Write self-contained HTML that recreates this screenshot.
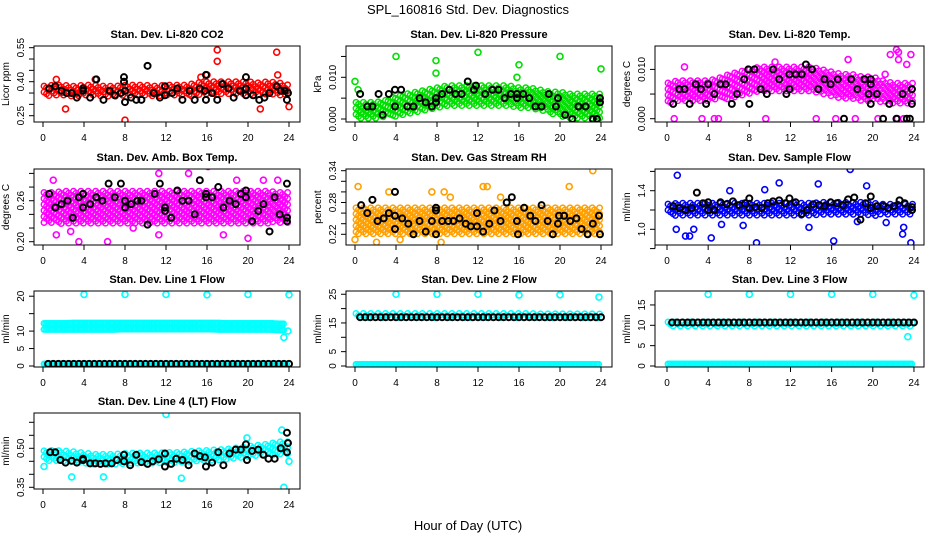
<!DOCTYPE html>
<html><head><meta charset="utf-8"><style>
html,body{margin:0;padding:0;background:#fff}
svg{display:block;font-family:"Liberation Sans",sans-serif}
</style></head><body>
<svg id="chart" width="936" height="540" viewBox="0 0 936 540" xmlns="http://www.w3.org/2000/svg">
<text x="468" y="14" text-anchor="middle" font-size="13">SPL_160816  Std. Dev. Diagnostics</text>
<text x="468" y="530" text-anchor="middle" font-size="13">Hour of Day (UTC)</text>
</svg>
<script>
// ---- data (hourly band centre / half-spread at hours 0..24, outliers, black overlay points) ----
const xTicks=[0,4,8,12,16,20,24];
const co2Center=[0.355,0.36,0.36,0.355,0.36,0.36,0.355,0.355,0.36,0.36,0.36,0.355,0.36,0.36,0.36,0.365,0.37,0.37,0.37,0.37,0.37,0.365,0.37,0.365,0.36];
const co2Spread=[0.025,0.025,0.025,0.025,0.025,0.025,0.025,0.025,0.025,0.025,0.025,0.025,0.025,0.025,0.025,0.03,0.03,0.03,0.03,0.03,0.03,0.03,0.03,0.03,0.025];
const co2OutX=[8,17,22.8,17,16,22.9,2.2,21.2,24,1.3,5.1,15.4];
const co2OutY=[0.23,0.54,0.53,0.49,0.43,0.43,0.28,0.28,0.29,0.41,0.41,0.42];
const co2BlackX=[0.6,1.2,1.8,2.3,2.8,3.3,3.9,3.9,4.6,5.2,5.9,6.5,7,7.6,7.9,7.9,8,8,8.6,9.1,9.6,10.2,10.8,11.4,11.9,11.9,12.6,13.1,13.6,14.3,14.8,15.3,15.8,15.9,15.9,16.5,17,17.5,18.1,18.6,19.2,19.8,19.8,19.8,20.5,21.1,21.6,22.1,22.8,23.2,23.6,23.9,23.8];
const co2BlackY=[0.37,0.38,0.36,0.35,0.35,0.33,0.36,0.37,0.33,0.41,0.32,0.36,0.34,0.35,0.40,0.42,0.31,0.36,0.33,0.32,0.32,0.47,0.35,0.33,0.38,0.34,0.35,0.37,0.32,0.36,0.32,0.37,0.36,0.32,0.43,0.35,0.32,0.39,0.37,0.33,0.36,0.37,0.34,0.42,0.34,0.32,0.33,0.35,0.38,0.36,0.36,0.35,0.32];

const presCenter=[0.002,0.002,0.002,0.0025,0.003,0.0035,0.004,0.0045,0.005,0.0055,0.0055,0.0055,0.0055,0.0055,0.0055,0.0055,0.005,0.005,0.0045,0.004,0.0035,0.003,0.003,0.003,0.003];
const presSpread=[0.002,0.002,0.002,0.002,0.0025,0.0025,0.0025,0.0025,0.0025,0.0025,0.0025,0.0025,0.0025,0.0025,0.0025,0.0025,0.0025,0.0025,0.0025,0.0025,0.003,0.003,0.003,0.003,0.003];
const presOutX=[0,4,7.9,7.9,12,16,20,24,15.8,0.3];
const presOutY=[0.009,0.015,0.014,0.011,0.016,0.013,0.015,0.012,0.010,0.007];
const presBlackX=[0.5,1.2,1.7,2.3,2.7,3.3,3.9,3.9,4.5,5.1,5.7,6.3,6.9,7.5,7.9,7.9,8.5,9.2,9.8,10.4,11,11.6,11.8,12.7,13.4,14,14.6,15.2,15.8,15.8,16.4,17,17.6,18.2,18.9,19.6,19.8,20.5,21.2,21.8,22.5,23.2,23.6,23.9,23.9];
const presBlackY=[0.006,0.003,0.003,0.006,0.001,0.006,0.007,0.003,0.007,0.003,0.003,0.005,0.004,0.003,0.005,0.004,0.006,0.007,0.006,0.006,0.009,0.007,0.008,0.006,0.007,0.007,0.005,0.006,0.006,0.005,0.006,0.005,0.003,0.003,0.006,0.003,0.005,0.001,0.000,0.003,0.003,0.000,0.000,0.004,0.005];

const tempCenter=[0.005,0.0055,0.0055,0.0055,0.0055,0.006,0.0065,0.007,0.0075,0.008,0.008,0.008,0.008,0.008,0.008,0.0075,0.007,0.0065,0.0065,0.006,0.006,0.0055,0.005,0.005,0.005];
const tempSpread=[0.0022,0.0022,0.0022,0.0022,0.0022,0.0022,0.0025,0.0025,0.0025,0.0025,0.0025,0.0025,0.0025,0.0025,0.0025,0.0025,0.0025,0.0025,0.0025,0.0025,0.0025,0.0022,0.0022,0.0022,0.0022];
const tempOutX=[0.7,3.4,4.6,5,9.6,14.5,16.4,18.3,20.5,22.4,23,22.3,22.5,21.7,23.7,22.5,23.3,17.6,21.2,1.7,10.5];
const tempOutY=[0,0,0,0,0,0,0,0,0,0,0,0.014,0.0135,0.013,0.013,0.012,0.011,0.012,0.009,0.0105,0.0115];
const tempBlackX=[0.6,1.2,1.7,2.2,2.8,3.3,3.8,4,4.6,5.2,5.7,6.3,6.8,7.5,7.9,8,8.5,9.1,9.7,10.3,10.9,11.6,11.9,11.9,12.5,13.1,13.5,14.1,14.7,15.3,15.9,16.6,17.2,17.9,18.5,19.2,19.8,19.8,19.6,19.8,20.4,21,21.6,22.3,22.9,23.3,23.6,23.8,23.8];
const tempBlackY=[0.003,0.006,0.006,0.003,0.007,0.006,0.003,0.007,0.005,0.007,0.007,0.003,0.005,0.008,0.010,0.003,0.010,0.006,0.005,0.010,0.008,0.005,0.009,0.006,0.009,0.009,0.011,0.010,0.006,0.008,0.007,0.008,0.0,0.008,0.006,0.008,0.008,0.007,0.005,0.003,0.005,0.0,0.003,0.0,0.005,0.0,0.0,0.006,0.003];

const ambCenter=[0.25,0.25,0.25,0.25,0.25,0.25,0.25,0.25,0.25,0.25,0.25,0.25,0.25,0.25,0.25,0.25,0.25,0.25,0.25,0.25,0.25,0.25,0.25,0.25,0.25];
const ambSpread=[0.022,0.022,0.024,0.024,0.024,0.024,0.024,0.024,0.024,0.024,0.024,0.024,0.024,0.024,0.024,0.024,0.024,0.024,0.024,0.024,0.024,0.024,0.024,0.022,0.022];
const ambOutX=[1,1.3,3.5,6.3,11.3,16.1,14.2,11.3,2.7,18.9,21.5,20,8.8,17.6,22.9];
const ambOutY=[0.29,0.21,0.20,0.20,0.21,0.31,0.30,0.30,0.215,0.29,0.29,0.205,0.22,0.21,0.29];
const ambBlackX=[0.6,1.2,1.8,2.4,2.9,3.5,3.9,3.9,4.6,5.2,5.8,6.4,7,7.6,8,8,8.6,9.2,9.6,10.2,10.9,11.4,11.9,11.9,12.5,13.1,13.6,14.2,14.8,15.3,15.9,15.9,16.5,17.1,17.6,18.2,18.8,19.3,19.8,19.8,20.4,21,21.5,22.1,22.6,23.1,23.8,23.8,23.8];
const ambBlackY=[0.27,0.25,0.255,0.26,0.235,0.265,0.25,0.27,0.255,0.265,0.26,0.285,0.265,0.285,0.26,0.25,0.255,0.26,0.26,0.225,0.27,0.285,0.245,0.25,0.235,0.275,0.26,0.26,0.24,0.29,0.27,0.265,0.265,0.28,0.25,0.26,0.255,0.27,0.275,0.265,0.23,0.245,0.255,0.215,0.265,0.24,0.285,0.235,0.23];

const rhCenter=[0.245,0.245,0.245,0.245,0.245,0.245,0.245,0.245,0.245,0.245,0.245,0.245,0.245,0.245,0.245,0.245,0.245,0.245,0.245,0.245,0.245,0.245,0.245,0.245,0.245];
const rhSpread=[0.025,0.025,0.025,0.025,0.025,0.025,0.025,0.025,0.025,0.025,0.025,0.025,0.025,0.025,0.025,0.025,0.025,0.025,0.025,0.025,0.025,0.025,0.025,0.025,0.025];
const rhOutX=[0.3,0,3.3,4.4,8.4,2.1,7.5,12.5,12.9,20.9,23.2,14.2,9.3,8.7];
const rhOutY=[0.31,0.21,0.30,0.21,0.205,0.205,0.30,0.31,0.31,0.31,0.34,0.29,0.29,0.30];
const rhBlackX=[0.6,1.2,1.7,2.2,2.8,3.3,3.9,3.9,3.9,4.6,5.2,5.7,6.3,6.9,7.5,7.9,7.9,7.9,8.5,9.1,9.6,10.2,10.8,11.3,11.9,11.9,12.5,13.1,13.6,14.2,14.8,15.3,15.8,15.9,16.5,17.1,17.6,18.2,18.8,19.3,19.8,19.9,20.4,21,21.6,22.1,22.7,23.2,23.8,23.9];
const rhBlackY=[0.275,0.26,0.285,0.245,0.25,0.26,0.3,0.255,0.23,0.25,0.24,0.22,0.245,0.225,0.245,0.22,0.27,0.265,0.245,0.245,0.245,0.25,0.24,0.235,0.26,0.235,0.225,0.24,0.265,0.245,0.28,0.29,0.245,0.22,0.27,0.255,0.245,0.275,0.245,0.22,0.24,0.255,0.255,0.245,0.25,0.23,0.22,0.24,0.255,0.22];

const flowCenter=[1.2,1.2,1.2,1.2,1.2,1.2,1.2,1.2,1.2,1.2,1.2,1.2,1.2,1.2,1.2,1.21,1.21,1.21,1.21,1.21,1.2,1.2,1.2,1.2,1.2];
const flowSpread=[0.06,0.07,0.07,0.07,0.07,0.07,0.07,0.07,0.07,0.07,0.07,0.07,0.07,0.07,0.07,0.07,0.07,0.07,0.07,0.07,0.07,0.06,0.06,0.06,0.06];
const flowOutX=[1.8,2.2,4.3,8.7,16.2,23.7,1,7.4,13.8,0.9,6.1,10.9,14.7,17.8,19.4,22.9,9.5,18.5,2.6,23,5.3,21.3];
const flowOutY=[0.93,0.93,0.91,0.86,0.88,0.86,1.56,1.04,1.02,1.0,1.4,1.48,1.47,1.62,1.45,0.95,1.41,1.08,1.0,1.02,1.05,1.07];
const flowBlackX=[0.6,1.2,1.8,2.4,2.9,3.5,4,4,4.6,5.2,5.8,6.4,7,7.6,8,8,8.6,9.2,9.8,10.3,10.9,11.5,11.9,12.5,13.1,13.6,14.2,14.8,15.3,15.9,16.5,17.1,17.6,18.2,18.8,19.3,19.8,19.8,20.4,21,21.5,22.1,22.6,23.1,23.8,23.8];
const flowBlackY=[1.24,1.22,1.2,1.22,1.38,1.27,1.28,1.2,1.2,1.28,1.26,1.29,1.25,1.27,1.32,1.22,1.23,1.22,1.27,1.29,1.3,1.27,1.32,1.28,1.16,1.2,1.26,1.25,1.24,1.28,1.27,1.25,1.31,1.33,1.1,1.27,1.34,1.22,1.24,1.24,1.22,1.24,1.3,1.27,1.23,1.2];

const l1BandA=[12.2,12.2,12.2,12.3,12.3,12.3,12.3,12.3,12.3,12.3,12.3,12.3,12.3,12.3,12.3,12.3,12.3,12.3,12.2,12.2,12.2,12.2,12.2,12.1,12.1];
const l1BandB=[10.5,10.5,10.5,10.5,10.5,10.5,10.5,10.5,10.6,10.6,10.6,10.6,10.6,10.6,10.6,10.6,10.6,10.5,10.5,10.5,10.5,10.5,10.5,10.3,10.2];
const l1Zero=[0.6,0.6,0.6,0.6,0.6,0.6,0.6,0.6,0.6,0.6,0.6,0.6,0.6,0.6,0.6,0.6,0.6,0.6,0.6,0.6,0.6,0.6,0.6,0.6,0.6];
const l1OutX=[4,8,12,16,20,24,23.5,23.9];
const l1OutY=[20.5,20.5,20.5,20.4,20.5,20.4,8.2,10];
const l2Band=[17.4,17.4,17.4,17.4,17.4,17.4,17.4,17.4,17.4,17.4,17.4,17.4,17.4,17.4,17.4,17.4,17.4,17.4,17.3,17.3,17.3,17.3,17.3,17.3,17.2];
const l2Zero=[0.6,0.6,0.6,0.6,0.6,0.6,0.6,0.6,0.6,0.6,0.6,0.6,0.6,0.6,0.6,0.6,0.6,0.6,0.6,0.6,0.6,0.6,0.6,0.6,0.6];
const l2OutX=[4,8,12,16,20,23.8];
const l2OutY=[25,25,25,24.7,24.8,24];
const l3Band=[10.2,10.2,10.2,10.2,10.2,10.2,10.2,10.2,10.2,10.2,10.2,10.2,10.2,10.2,10.2,10.2,10.2,10.2,10.2,10.2,10.2,10.2,10.2,10.2,10.1];
const l3Zero=[0.5,0.5,0.5,0.5,0.5,0.5,0.5,0.5,0.5,0.5,0.5,0.5,0.5,0.5,0.5,0.5,0.5,0.5,0.5,0.5,0.5,0.5,0.5,0.5,0.5];
const l3OutX=[4,8,12,16,20,24,23.4];
const l3OutY=[17.6,17.6,17.6,17.6,17.6,17.4,7.2];
const l4Center=[0.468,0.47,0.468,0.465,0.46,0.455,0.455,0.455,0.458,0.46,0.46,0.46,0.462,0.462,0.465,0.468,0.47,0.472,0.475,0.48,0.485,0.49,0.495,0.5,0.5];
const l4Spread=[0.022,0.022,0.022,0.022,0.022,0.022,0.022,0.022,0.022,0.022,0.022,0.022,0.022,0.022,0.022,0.022,0.022,0.022,0.022,0.022,0.022,0.022,0.022,0.025,0.025];
const l4OutX=[0.1,2.8,12,13.5,19.9,23.5,23.3,24,5.9];
const l4OutY=[0.43,0.39,0.63,0.385,0.54,0.35,0.57,0.45,0.39];
const l4BlackX=[0.7,1.2,1.7,2.2,2.8,3.3,3.9,3.9,4.6,5.1,5.6,6.1,6.7,7.2,7.9,7.9,8.5,9.1,9.6,10.2,10.7,11.3,11.9,11.9,12.5,13,13.6,14.2,14.8,15.3,15.8,15.9,16.5,17.1,17.6,18.2,18.8,19.3,19.8,19.9,20.4,21,21.5,22,22.6,23.2,23.8,23.8,23.9];
const l4BlackY=[0.485,0.485,0.455,0.445,0.452,0.445,0.455,0.46,0.442,0.442,0.44,0.442,0.442,0.455,0.45,0.475,0.435,0.475,0.447,0.44,0.45,0.458,0.48,0.43,0.44,0.46,0.455,0.435,0.48,0.47,0.465,0.43,0.445,0.485,0.435,0.48,0.495,0.495,0.515,0.455,0.49,0.495,0.475,0.46,0.46,0.5,0.56,0.485,0.52];
const l1BlackVal=0.6, l2BlackVal=17.0, l3BlackVal=10.7;

// ---- rendering ----
const NS="http://www.w3.org/2000/svg";
const svg=document.getElementById('chart');
function mk(tag,attrs,parent){const e=document.createElementNS(NS,tag);for(const k in attrs)e.setAttribute(k,attrs[k]);(parent||svg).appendChild(e);return e;}
const colX0=[43,355,667], colK=[10.25,10.25,10.29], colBox=[[34,300],[346,612],[655,924]];
const rowTop=[46,169,291,413], BH=76;
function interp(arr,h){const i=Math.min(23,Math.max(0,Math.floor(h)));const f=h-i;return arr[i]*(1-f)+arr[i+1]*f;}

function drawPanel(p){
  const g=mk('g',{});
  
  
  const [bl,br]=colBox[p.col]; const bt=rowTop[p.row], bb=bt+BH;
  const X=h=>colX0[p.col]+h*colK[p.col];
  const Y=v=>p.p0-(v-p.v0)*p.k;
  const t=mk('text',{x:(bl+br)/2,y:bt-8,'text-anchor':'middle','font-size':11,'font-weight':'bold'},g);
  t.textContent=p.title;
  
  
  const clip='c'+p.name;
  const cp=mk('clipPath',{id:clip},g); mk('rect',{x:bl,y:bt,width:br-bl,height:BH},cp);
  const pts=mk('g',{'clip-path':'url(#'+clip+')',fill:'none'},g);
  
  
  (p.bands||[]).forEach(b=>{
    let col=0;
    const step=b.s?0.24:0.16;
    for(let h=0.1;h<=b.end;h+=step){
      const c=interp(b.c,h), s=b.s?interp(b.s,h):0;
      const top=Y(c+s), bot=Y(c-s);
      const off=b.s?(col%3)*2:0; col++;
      for(let y=top+off;y<=bot+0.01;y+=6){
        const e=mk('circle',{cx:X(h).toFixed(1),cy:y.toFixed(1),r:2.7,stroke:p.color,'stroke-width':1.5},pts);
        
        
      }
    }
  });
  (p.outX||[]).forEach((h,i)=>{
    const e=mk('circle',{cx:X(h),cy:Y(p.outY[i]),r:3,stroke:p.color,'stroke-width':1.6},pts);
    
    
  });
  (p.bx||[]).forEach((h,i)=>{
    const e=mk('circle',{cx:X(h),cy:Y(p.by[i]),r:3,stroke:'#000','stroke-width':2},pts);
    
    
  });
  const box=mk('rect',{x:bl,y:bt,width:br-bl,height:BH,fill:'none',stroke:'#000','stroke-width':1},g);
  
  
  const xa=mk('g',{},g);
  
  
  mk('line',{x1:X(0),x2:X(24),y1:bb,y2:bb,stroke:'#000'},xa);
  xTicks.forEach(v=>{
    mk('line',{x1:X(v),x2:X(v),y1:bb,y2:bb+5,stroke:'#000'},xa);
    const tl=mk('text',{x:X(v),y:bb+19,'text-anchor':'middle','font-size':10},xa);
    tl.textContent=v;
    
    
  });
  const ya=mk('g',{},g);
  
  
  const tk=p.ticks;
  mk('line',{x1:bl,x2:bl,y1:Y(tk[0]),y2:Y(tk[tk.length-1]),stroke:'#000'},ya);
  tk.forEach(v=>mk('line',{x1:bl-5,x2:bl,y1:Y(v),y2:Y(v),stroke:'#000'},ya));
  p.labels.forEach(v=>{
    const y=Y(parseFloat(v)), x=bl-10;
    const tl=mk('text',{x:x,y:y,'text-anchor':'middle','font-size':10,transform:`rotate(-90 ${x} ${y})`},ya);
    tl.textContent=v;
    
    
  });
  const yx=bl-25, yy=(bt+bb)/2;
  const yt=mk('text',{x:yx,y:yy,'text-anchor':'middle','font-size':10,transform:`rotate(-90 ${yx} ${yy})`},g);
  yt.textContent=p.ylab;
  
  
}
const hrs=[];for(let h=0.5;h<=24;h+=0.5)hrs.push(h);
drawPanel({name:'co2-panel',title:'Stan. Dev. Li-820 CO2',ylab:'Licor ppm',col:0,row:0,color:'#ff0000',v0:0.25,p0:115.7,k:226.7,ticks:[0.25,0.30,0.35,0.40,0.45,0.50,0.55],labels:['0.25','0.40','0.55'],bands:[{c:co2Center,s:co2Spread,end:24}],outX:co2OutX,outY:co2OutY,bx:co2BlackX,by:co2BlackY});
drawPanel({name:'pressure-panel',title:'Stan. Dev. Li-820 Pressure',ylab:'kPa',col:1,row:0,color:'#00e000',v0:0,p0:119,k:4170,ticks:[0,0.005,0.010,0.015],labels:['0.000','0.010'],bands:[{c:presCenter,s:presSpread,end:24}],outX:presOutX,outY:presOutY,bx:presBlackX,by:presBlackY});
drawPanel({name:'licor-temp-panel',title:'Stan. Dev. Li-820 Temp.',ylab:'degrees C',col:2,row:0,color:'#ff00ff',v0:0,p0:118.7,k:4930,ticks:[0,0.005,0.010],labels:['0.000','0.010'],bands:[{c:tempCenter,s:tempSpread,end:24}],outX:tempOutX,outY:tempOutY,bx:tempBlackX,by:tempBlackY});
drawPanel({name:'amb-box-temp-panel',title:'Stan. Dev. Amb. Box Temp.',ylab:'degrees C',col:0,row:1,color:'#ff00ff',v0:0.20,p0:241.7,k:683,ticks:[0.20,0.22,0.24,0.26,0.28,0.30],labels:['0.20','0.26'],bands:[{c:ambCenter,s:ambSpread,end:24}],outX:ambOutX,outY:ambOutY,bx:ambBlackX,by:ambBlackY});
drawPanel({name:'gas-rh-panel',title:'Stan. Dev. Gas Stream RH',ylab:'percent',col:1,row:1,color:'#ffa000',v0:0.22,p0:234.3,k:530,ticks:[0.22,0.24,0.26,0.28,0.30,0.32,0.34],labels:['0.22','0.28','0.34'],bands:[{c:rhCenter,s:rhSpread,end:24}],outX:rhOutX,outY:rhOutY,bx:rhBlackX,by:rhBlackY});
drawPanel({name:'sample-flow-panel',title:'Stan. Dev. Sample Flow',ylab:'ml/min',col:2,row:1,color:'#0000ff',v0:1.0,p0:229.3,k:96.5,ticks:[0.8,1.0,1.2,1.4,1.6],labels:['1.0','1.4'],bands:[{c:flowCenter,s:flowSpread,end:24}],outX:flowOutX,outY:flowOutY,bx:flowBlackX,by:flowBlackY});
drawPanel({name:'line1-flow-panel',title:'Stan. Dev. Line 1 Flow',ylab:'ml/min',col:0,row:2,color:'#00ffff',v0:0,p0:366,k:3.49,ticks:[0,5,10,15,20],labels:['0','5','10','20'],bands:[{c:l1BandA,s:null,end:23.6},{c:l1BandB,s:null,end:23.6},{c:l1Zero,s:null,end:23.9}],outX:l1OutX,outY:l1OutY,bx:hrs,by:hrs.map(()=>l1BlackVal)});
drawPanel({name:'line2-flow-panel',title:'Stan. Dev. Line 2 Flow',ylab:'ml/min',col:1,row:2,color:'#00ffff',v0:0,p0:366,k:2.87,ticks:[0,5,10,15,20,25],labels:['0','5','15','25'],bands:[{c:l2Band,s:l2Band.map(()=>0.9),end:23.9},{c:l2Zero,s:null,end:23.9}],outX:l2OutX,outY:l2OutY,bx:hrs,by:hrs.map(()=>l2BlackVal)});
drawPanel({name:'line3-flow-panel',title:'Stan. Dev. Line 3 Flow',ylab:'ml/min',col:2,row:2,color:'#00ffff',v0:0,p0:366,k:4.07,ticks:[0,5,10,15],labels:['0','5','10','15'],bands:[{c:l3Band,s:l3Band.map(()=>0.6),end:23.9},{c:l3Zero,s:null,end:23.9}],outX:l3OutX,outY:l3OutY,bx:hrs,by:hrs.map(()=>l3BlackVal)});
drawPanel({name:'line4-flow-panel',title:'Stan. Dev. Line 4 (LT) Flow',ylab:'ml/min',col:0,row:3,color:'#00ffff',v0:0.35,p0:487.3,k:260,ticks:[0.35,0.40,0.45,0.50,0.55,0.60],labels:['0.35','0.50'],bands:[{c:l4Center,s:l4Spread,end:24}],outX:l4OutX,outY:l4OutY,bx:l4BlackX,by:l4BlackY});
</script>
</body></html>
